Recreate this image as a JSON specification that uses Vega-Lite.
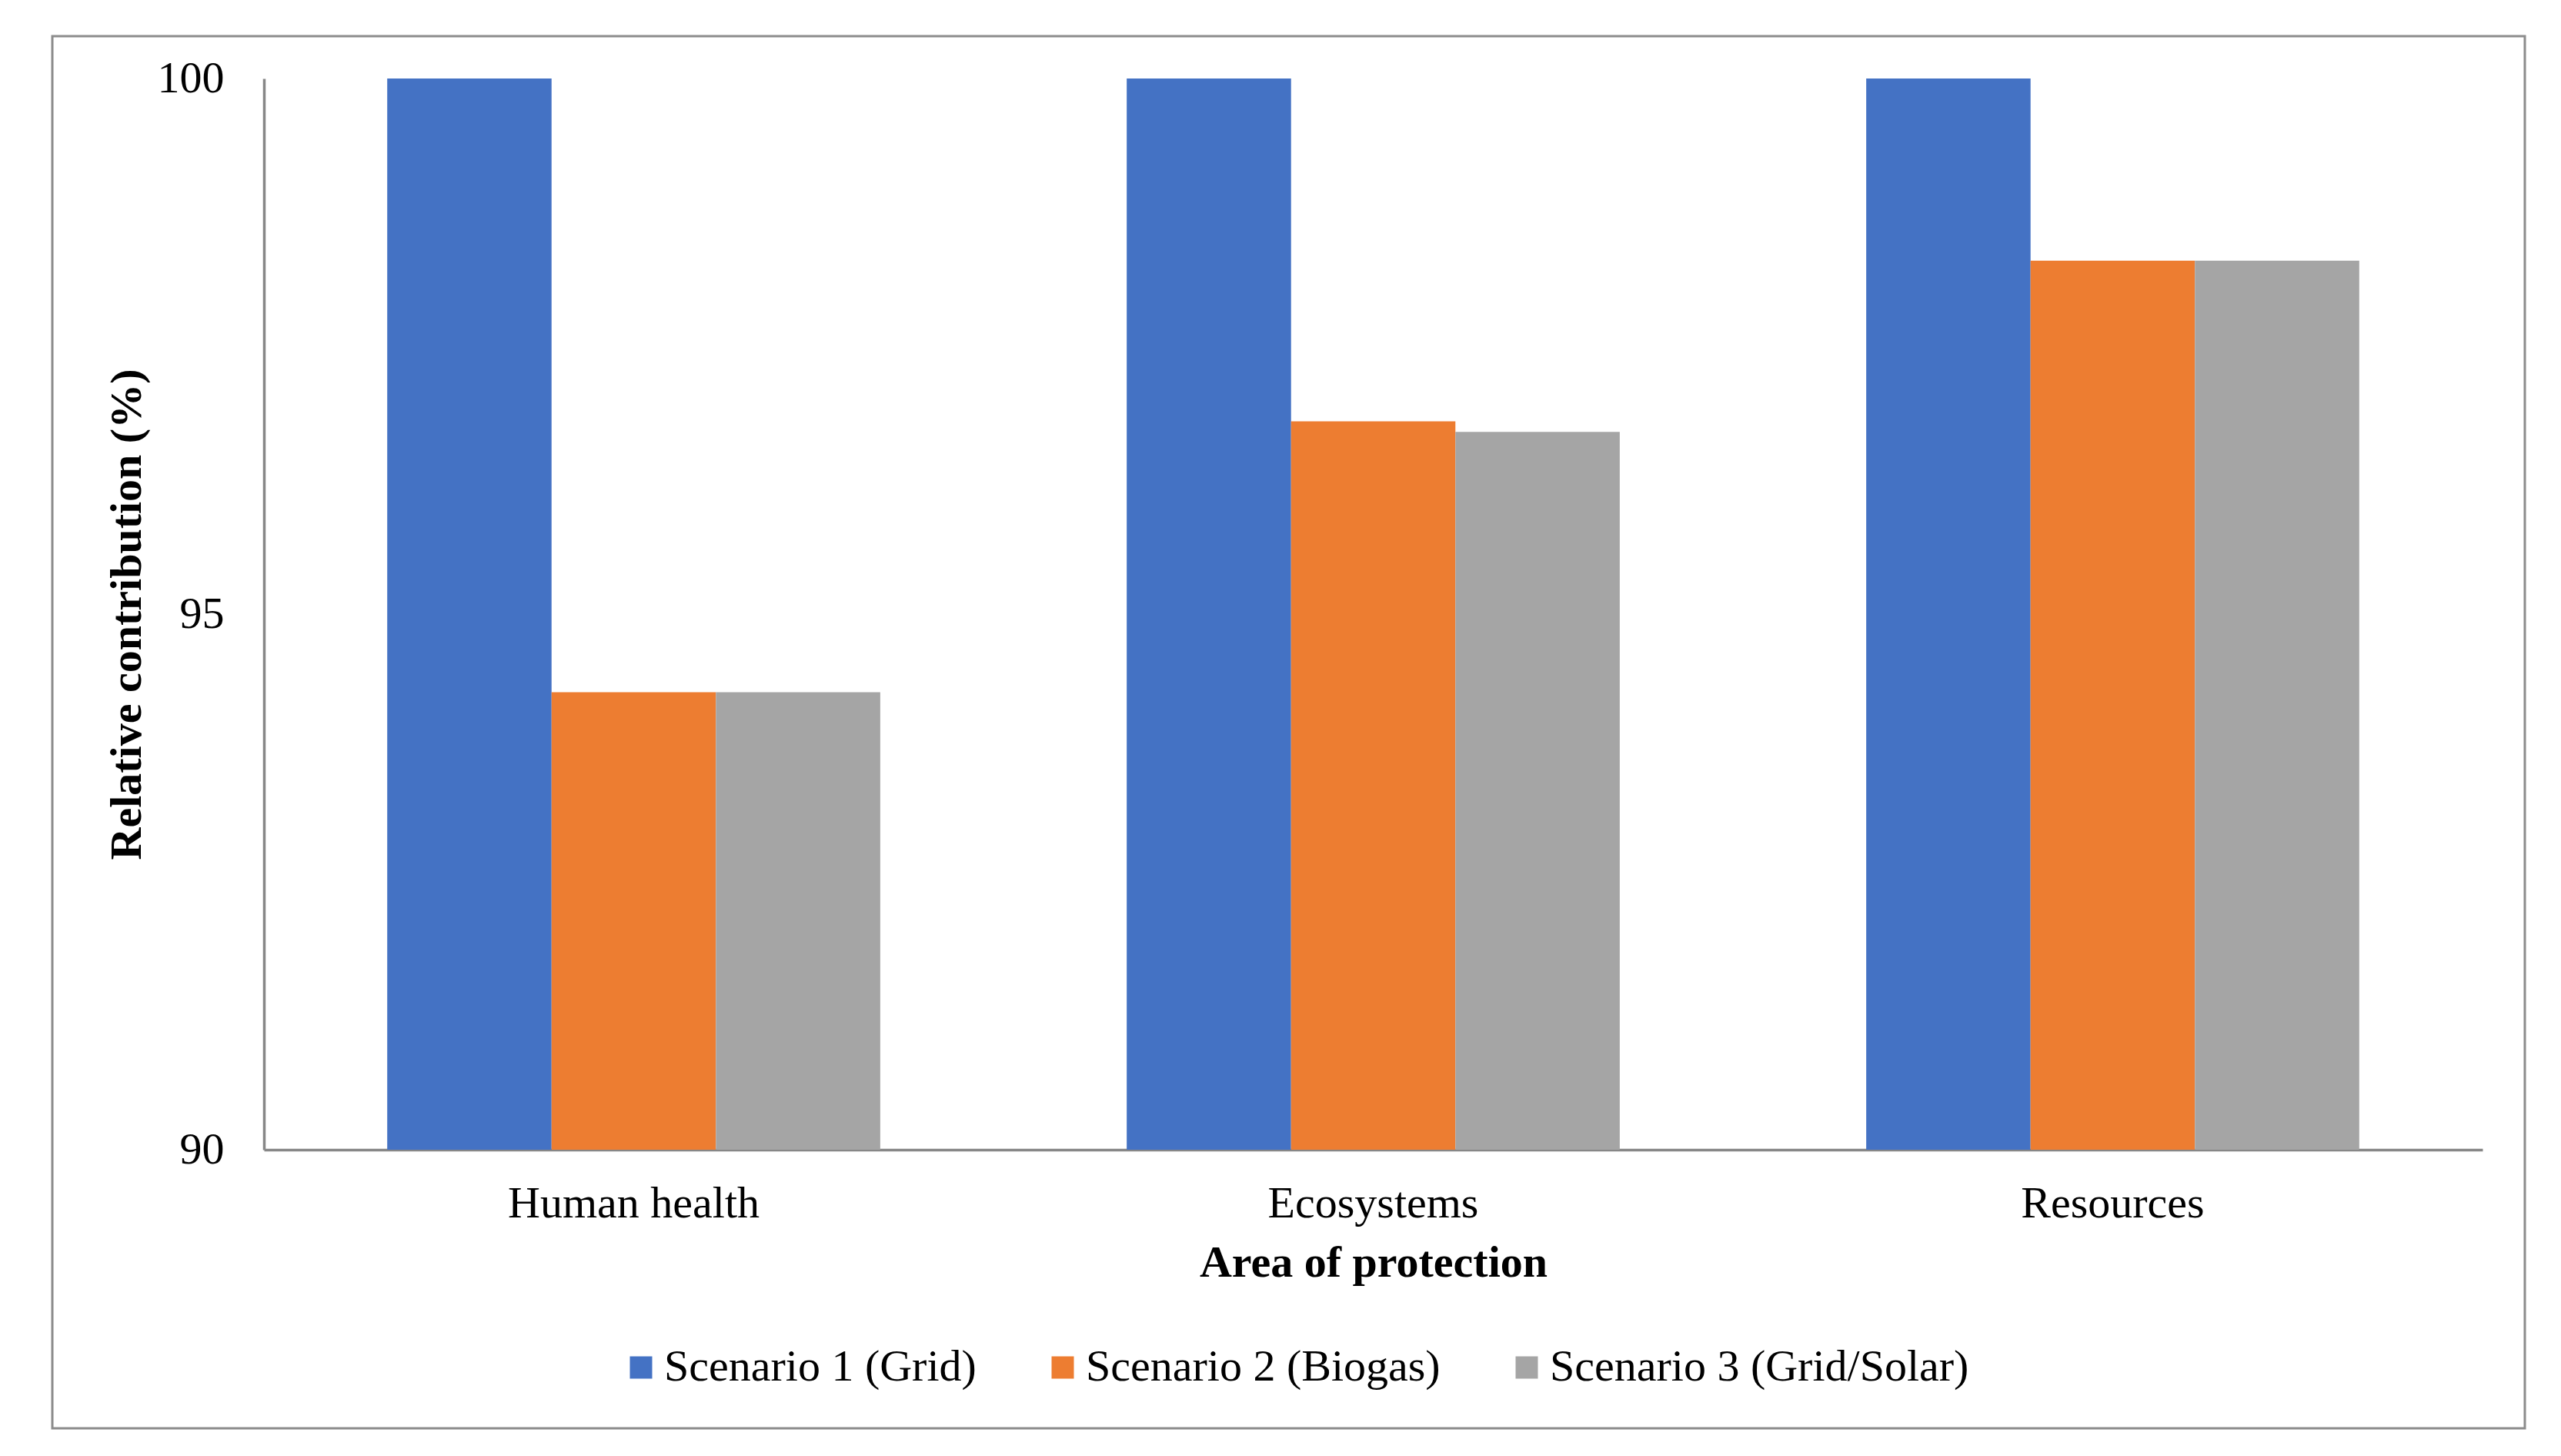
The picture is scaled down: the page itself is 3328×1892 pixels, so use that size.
{
  "$schema": "https://vega.github.io/schema/vega-lite/v6.json",
  "width": 3213,
  "height": 1809,
  "autosize": {"type": "none"},
  "padding": {"left": 68, "top": 47, "right": 47, "bottom": 36},
  "background": "white",
  "config": {
    "view": {"stroke": "#8c8c8c", "strokeWidth": 3, "fill": "white"},
    "font": "Liberation Serif",
    "axis": {"grid": false, "labelFont": "Liberation Serif", "titleFont": "Liberation Serif"},
    "legend": {"labelFont": "Liberation Serif"}
  },
  "data": {
    "values": [
      {"area": "Human health", "scenario": "Scenario 1 (Grid)", "value": 100},
      {"area": "Human health", "scenario": "Scenario 2 (Biogas)", "value": 94.27},
      {"area": "Human health", "scenario": "Scenario 3 (Grid/Solar)", "value": 94.27},
      {"area": "Ecosystems", "scenario": "Scenario 1 (Grid)", "value": 100},
      {"area": "Ecosystems", "scenario": "Scenario 2 (Biogas)", "value": 96.8},
      {"area": "Ecosystems", "scenario": "Scenario 3 (Grid/Solar)", "value": 96.7},
      {"area": "Resources", "scenario": "Scenario 1 (Grid)", "value": 100},
      {"area": "Resources", "scenario": "Scenario 2 (Biogas)", "value": 98.3},
      {"area": "Resources", "scenario": "Scenario 3 (Grid/Solar)", "value": 98.3}
    ]
  },
  "mark": {"type": "bar"},
  "encoding": {
    "x": {
      "field": "area",
      "type": "nominal",
      "sort": ["Human health", "Ecosystems", "Resources"],
      "scale": {"range": [275, 3158], "paddingInner": 0.3333, "paddingOuter": 0.1667},
      "axis": {
        "title": "Area of protection",
        "titleFontSize": 58,
        "titleFontWeight": "bold",
        "titleColor": "black",
        "titleBaseline": "alphabetic",
        "titleY": 164,
        "labelAngle": 0,
        "labelFontSize": 58,
        "labelColor": "black",
        "labelBaseline": "alphabetic",
        "labelPadding": 87,
        "labelLimit": 0,
        "ticks": false,
        "tickSize": 0,
        "domainColor": "#878787",
        "domainWidth": 3.5,
        "offset": -362
      }
    },
    "xOffset": {
      "field": "scenario",
      "type": "nominal",
      "sort": ["Scenario 1 (Grid)", "Scenario 2 (Biogas)", "Scenario 3 (Grid/Solar)"],
      "scale": {"paddingInner": 0, "paddingOuter": 0}
    },
    "y": {
      "field": "value",
      "type": "quantitative",
      "scale": {"domain": [90, 100], "range": [1447, 55], "zero": false, "nice": false},
      "axis": {
        "title": "Relative contribution (%)",
        "titleFontSize": 58,
        "titleFontWeight": "bold",
        "titleColor": "black",
        "titleAngle": -90,
        "titleBaseline": "middle",
        "titleAlign": "center",
        "titleX": -178,
        "titleY": 751,
        "values": [90, 95, 100],
        "labelFontSize": 58,
        "labelColor": "black",
        "labelPadding": 52,
        "labelFlush": false,
        "labelOverlap": false,
        "ticks": false,
        "tickSize": 0,
        "domainColor": "#878787",
        "domainWidth": 3.5,
        "offset": -275
      }
    },
    "y2": {"datum": 90},
    "color": {
      "field": "scenario",
      "type": "nominal",
      "scale": {
        "domain": ["Scenario 1 (Grid)", "Scenario 2 (Biogas)", "Scenario 3 (Grid/Solar)"],
        "range": ["#4472C4", "#ED7D31", "#A5A5A5"]
      },
      "legend": {
        "orient": "none",
        "legendX": 736,
        "legendY": 1701,
        "direction": "horizontal",
        "title": null,
        "symbolType": "square",
        "symbolSize": 841,
        "symbolStrokeWidth": 0,
        "labelFontSize": 58,
        "labelColor": "black",
        "labelOffset": 1,
        "labelLimit": 0,
        "columnPadding": 83,
        "padding": 0
      }
    }
  }
}
